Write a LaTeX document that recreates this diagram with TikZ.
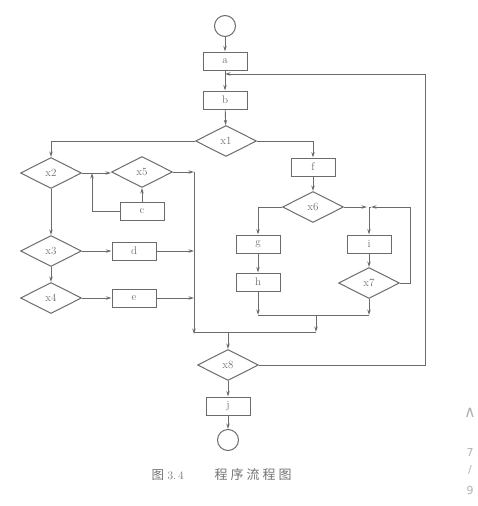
\documentclass[tikz,border=0pt]{standalone}
\usepackage{fontspec}
\newfontfamily\cjk{Noto Sans CJK SC}
\newfontfamily\djv{DejaVu Sans}
\usetikzlibrary{shapes.geometric,arrows.meta}
\definecolor{ln}{gray}{0.42}
\tikzset{
  box/.style={draw=ln, line width=1pt, rectangle, minimum width=44pt, minimum height=18pt, inner sep=0pt, text=ln, font=\fontsize{11}{11}\selectfont},
  dia/.style={draw=ln, line width=1pt, diamond, minimum width=61pt, minimum height=31pt, inner sep=0pt, text=ln, font=\fontsize{11}{11}\selectfont},
  term/.style={draw=ln, line width=1pt, circle, minimum size=21pt, inner sep=0pt},
  ar/.style={draw=ln, line width=0.9pt, -{Stealth[length=5.5pt,width=3.4pt]}},
  pl/.style={draw=ln, line width=0.9pt},
  pagemk/.style={text=black!30, font=\djv\fontsize{11}{11}\selectfont},
}
\begin{document}
\begin{tikzpicture}[x=1pt,y=-1pt]
\useasboundingbox (0,0) rectangle (477,506);
% nodes
\node[term] (st) at (225,26) {};
\node[box] (a) at (225,61) {a};
\node[box] (b) at (225,100) {b};
\node[dia] (x1) at (226,141) {x1};
\node[dia] (x2) at (51,173) {x2};
\node[dia] (x5) at (142,172) {x5};
\node[box] (c) at (142,211) {c};
\node[dia] (x3) at (51,251) {x3};
\node[box] (d) at (134,251) {d};
\node[dia] (x4) at (51,298) {x4};
\node[box] (e) at (134,298) {e};
\node[box] (f) at (313,167) {f};
\node[dia] (x6) at (313,207) {x6};
\node[box] (g) at (258,244) {g};
\node[box] (h) at (258,282) {h};
\node[box] (i) at (369,244) {i};
\node[dia] (x7) at (369,283) {x7};
\node[dia] (x8) at (228,365) {x8};
\node[box] (j) at (228,406) {j};
\node[term] (en) at (228,440) {};
% coordinates
\coordinate (J1) at (92,173);
\coordinate (R1) at (194,172);
\coordinate (R3) at (194,251);
\coordinate (R4) at (194,298);
\coordinate (B1) at (194,332);
\coordinate (B2) at (316,332);
\coordinate (M8) at (228,332);
\coordinate (J2) at (369,207);
\coordinate (L7) at (410,283);
\coordinate (L6) at (410,207);
\coordinate (H1) at (258,315);
\coordinate (H2) at (369,315);
\coordinate (H3) at (316,315);
\coordinate (Q1) at (425,365);
\coordinate (Q2) at (425,74);
\coordinate (Q3) at (225,74);
% connectors
\draw[ar] (st) -- (a);
\draw[ar] (a) -- (b);
\draw[ar] (b) -- (x1);
\draw[ar] (x1.west) -| (x2.north);
\draw[ar] (x1.east) -| (f.north);
\draw[ar] (x2.east) -- (x5.west |- x2.east);
\draw[ar] (c.west) -| (J1);
\draw[ar] (c) -- (x5);
\draw[ar] (x5.east) -- (R1);
\draw[ar] (R1) -- ([yshift=-2pt]B1);
\draw[pl] (B1) -- (B2);
\draw[ar] (x2) -- (x3);
\draw[ar] (x3) -- (d);
\draw[ar] (d) -- (R3);
\draw[ar] (x3) -- (x4);
\draw[ar] (x4) -- (e);
\draw[ar] (e) -- (R4);
\draw[ar] (f) -- (x6);
\draw[ar] (x6.west) -| (g.north);
\draw[ar] (g) -- (h);
\draw[ar] (x6.east) -- ([xshift=-2pt]J2);
\draw[ar] (J2) -- (i);
\draw[ar] (x7.east) -- (L7) -- (L6) -- ([xshift=2pt]J2);
\draw[pl] (J2) -- ([xshift=2pt]J2);
\draw[ar] (i) -- (x7);
\draw[ar] (h) -- (H1);
\draw[ar] (x7) -- (H2);
\draw[pl] (H1) -- (H2);
\draw[ar] (H3) -- (B2);
\draw[ar] (M8) -- (x8);
\draw[ar] (x8.east) -- (Q1) -- (Q2) -- (Q3);
\draw[ar] (x8) -- (j);
\draw[ar] (j) -- (en);
% caption
\node[text=black!55, font=\cjk\fontsize{12.5}{12.5}\selectfont, anchor=west] (cap1) at (148,475) {图};
\node[text=black!55, font=\fontsize{11.5}{11.5}\selectfont, anchor=west] (cap2) at (164,476) {3.\,4};
\node[text=black!55, font=\cjk\fontsize{13}{13}\selectfont, anchor=west] (cap3) at (211,475) {程\hspace{3pt}序\hspace{3pt}流\hspace{3pt}程\hspace{3pt}图};
% page marks
\node[pagemk, font=\djv\fontsize{16}{16}\selectfont] (pm1) at (470,413) {∧};
\node[pagemk] (pm2) at (470,452) {7};
\node[pagemk] (pm3) at (470,470) {/};
\node[pagemk] (pm4) at (470,490) {9};
\end{tikzpicture}
\end{document}
